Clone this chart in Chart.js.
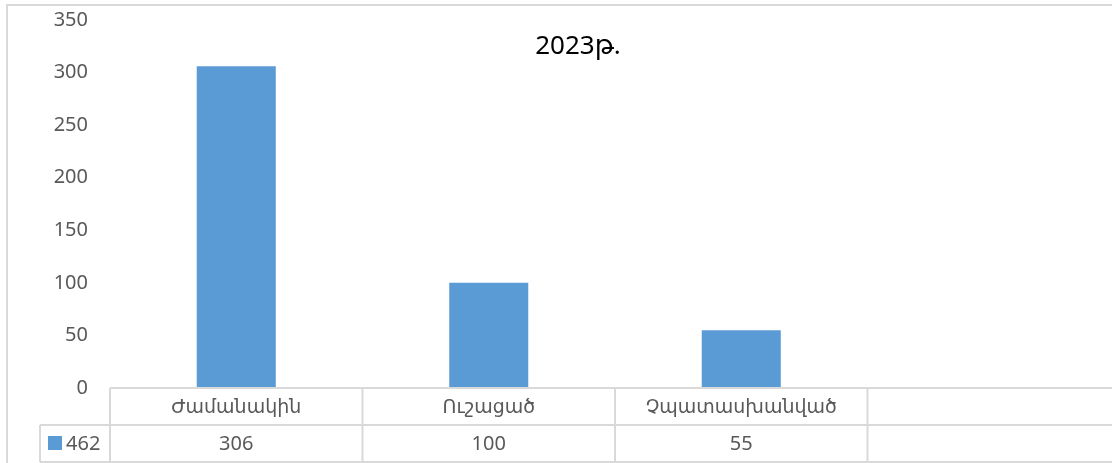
<!DOCTYPE html>
<html>
<head>
<meta charset="utf-8">
<script src="https://cdn.jsdelivr.net/npm/chart.js@4"></script>
<style>
  html, body { margin: 0; padding: 0; background: #fff; overflow: hidden; }
  #wrap { width: 1112px; height: 463px; overflow: hidden; position: relative; }
  canvas { display: block; }
</style>
</head>
<body>
<div id="wrap"><canvas id="chart" width="1121" height="463"></canvas></div>
<script>
const categories = ['Ժամանակին', 'Ուշացած', 'Չպատասխանված', ''];
const values = [306, 100, 55, null];
const seriesName = '462';
const chartTitle = '2023թ.';

const FONT = "'Noto Sans', 'DejaVu Sans', sans-serif";
const GRAY = '#595959';
const LINE = '#d9d9d9';
const BAR = '#5b9bd5';

// data table under the plot, drawn from the x scale
const dataTable = {
    id: 'dataTable',
    afterDraw(chart) {
        const ctx = chart.ctx;
        const area = chart.chartArea;
        const x = chart.scales.x;
        const rowH = 37;
        const top = area.bottom;
        const mid = top + rowH;
        const bottom = mid + rowH;
        const legendLeft = 40;
        const half = (x.getPixelForValue(1) - x.getPixelForValue(0)) / 2;

        ctx.save();
        ctx.strokeStyle = LINE;
        ctx.lineWidth = 2;

        // outer frame
        ctx.beginPath();
        ctx.moveTo(7, chart.height);
        ctx.lineTo(7, 5);
        ctx.lineTo(chart.width, 5);
        ctx.stroke();

        ctx.beginPath();
        ctx.moveTo(area.left, top);
        ctx.lineTo(chart.width, top);
        ctx.moveTo(legendLeft, mid);
        ctx.lineTo(chart.width, mid);
        ctx.moveTo(legendLeft, bottom);
        ctx.lineTo(chart.width, bottom);
        ctx.moveTo(legendLeft, mid);
        ctx.lineTo(legendLeft, bottom);
        categories.forEach((c, i) => {
            const cx = x.getPixelForValue(i) - half;
            ctx.moveTo(cx, top);
            ctx.lineTo(cx, bottom);
        });
        ctx.stroke();

        ctx.fillStyle = GRAY;
        ctx.font = '19px ' + FONT;
        ctx.textAlign = 'center';
        ctx.textBaseline = 'middle';
        categories.forEach((c, i) => {
            const cx = x.getPixelForValue(i);
            ctx.fillText(c, cx, top + rowH / 2 + 1);
            if (values[i] !== null) {
                ctx.font = '20px ' + FONT;
                ctx.fillText(String(values[i]), cx, mid + rowH / 2 + 1);
                ctx.font = '19px ' + FONT;
            }
        });

        // legend key
        ctx.fillStyle = BAR;
        ctx.fillRect(48, mid + 11, 14, 14);
        ctx.fillStyle = GRAY;
        ctx.font = '20px ' + FONT;
        ctx.textAlign = 'left';
        ctx.fillText(seriesName, 66, mid + rowH / 2 + 1);

        // title
        ctx.fillStyle = '#000';
        ctx.font = '26px ' + FONT;
        ctx.textAlign = 'center';
        ctx.fillText(chartTitle, 578, 47);
        ctx.restore();
    }
};

new Chart(document.getElementById('chart'), {
    type: 'bar',
    data: {
        labels: categories,
        datasets: [{
            label: seriesName,
            data: values,
            backgroundColor: BAR,
            borderWidth: 0,
            barPercentage: 0.313,
            categoryPercentage: 1
        }]
    },
    options: {
        responsive: false,
        animation: false,
        layout: { padding: { top: 20, bottom: 75, left: 0, right: 1 } },
        plugins: {
            legend: { display: false },
            tooltip: { enabled: false },
            title: { display: false }
        },
        scales: {
            x: { display: false },
            y: {
                min: 0,
                max: 350,
                afterFit(scale) {
                    scale.width = 110;
                    scale.paddingTop = 0;
                    scale.paddingBottom = 0;
                },
                grid: { display: false },
                border: { display: false },
                ticks: {
                    stepSize: 50,
                    padding: 14,
                    color: GRAY,
                    font: { family: FONT, size: 20 }
                }
            }
        }
    },
    plugins: [dataTable]
});
</script>
</body>
</html>
